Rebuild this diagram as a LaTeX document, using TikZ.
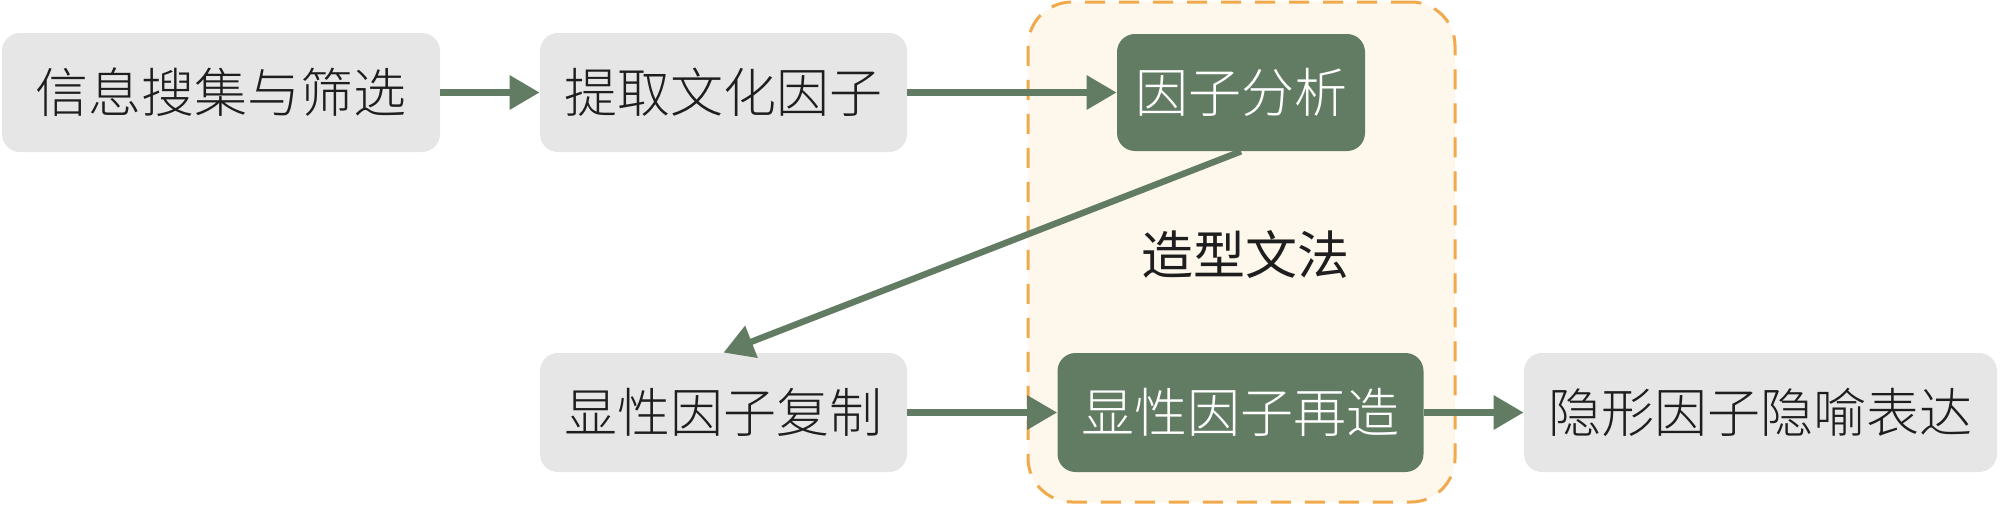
\documentclass[tikz,border=0pt]{standalone}
\usepackage{fontspec}
\setmainfont{Noto Sans CJK SC}
\newfontfamily\cjklight{Noto Sans CJK SC Light}
\usetikzlibrary{arrows.meta}
\definecolor{gbox}{HTML}{E6E6E6}
\definecolor{green}{HTML}{627C63}
\definecolor{orng}{HTML}{F0A94B}
\definecolor{cream}{HTML}{FEF7EC}
\definecolor{txt}{HTML}{1E1E1E}
\begin{document}
\begin{tikzpicture}[x=0.5pt,y=-0.5pt,
  graybox/.style={fill=gbox,rounded corners=9pt,inner sep=0pt,text=txt,font=\cjklight\fontsize{26.5}{30}\selectfont},
  greenbox/.style={fill=green,rounded corners=9pt,inner sep=0pt,text=white,font=\cjklight\fontsize{26.5}{30}\selectfont},
  conn/.style={draw=green,line width=3.2pt,-{Triangle[length=15pt,width=16.5pt]}}]
\useasboundingbox (0,0) rectangle (2000,504);
\node[draw=orng,fill=cream,line width=1.5pt,dash pattern=on 10pt off 7pt,rounded corners=22pt,minimum width=213.5pt,minimum height=250pt,inner sep=0pt] (grp) at (1241.5,252) {};
\node[graybox,minimum width=219pt,minimum height=59.5pt] (a) at (221,92.5) {信息搜集与筛选};
\node[graybox,minimum width=183.5pt,minimum height=59.5pt] (b) at (723.5,92.5) {提取文化因子};
\node[greenbox,minimum width=124pt,minimum height=58.5pt] (c) at (1241,92.5) {因子分析};
\node[graybox,minimum width=183.5pt,minimum height=59.5pt] (d) at (723.5,412.5) {显性因子复制};
\node[greenbox,minimum width=183pt,minimum height=59.5pt] (e) at (1240.5,412.5) {显性因子再造};
\node[graybox,minimum width=236.5pt,minimum height=59.5pt] (f) at (1760.5,412.5) {隐形因子隐喻表达};
\node[text=txt,font=\fontsize{26}{30}\selectfont,inner sep=0pt] (lab) at (1245,255) {造型文法};
\draw[conn] (a.east) -- (b.west);
\draw[conn] (b.east) -- (c.west);
\draw[conn] (c.south) -- (d.north);
\draw[conn] (d.east) -- (e.west);
\draw[conn] (e.east) -- (f.west);
\end{tikzpicture}
\end{document}
